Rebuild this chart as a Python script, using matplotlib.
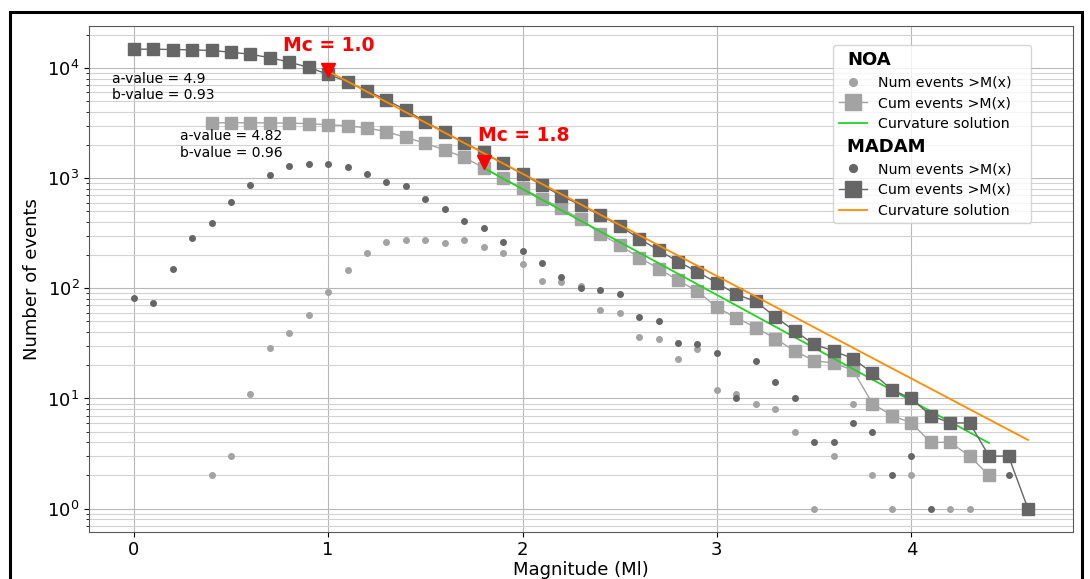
import matplotlib
matplotlib.use('Agg')
import matplotlib.pyplot as plt
from matplotlib.lines import Line2D
from matplotlib.patches import Rectangle
import numpy as np

# magnitude bins
madam_mag = [0.0, 0.1, 0.2, 0.3, 0.4, 0.5, 0.6, 0.7, 0.8, 0.9,
             1.0, 1.1, 1.2, 1.3, 1.4, 1.5, 1.6, 1.7, 1.8, 1.9,
             2.0, 2.1, 2.2, 2.3, 2.4, 2.5, 2.6, 2.7, 2.8, 2.9,
             3.0, 3.1, 3.2, 3.3, 3.4, 3.5, 3.6, 3.7, 3.8, 3.9,
             4.0, 4.1, 4.2, 4.3, 4.4, 4.5, 4.6]
madam_cum = [14800, 14800, 14700, 14600, 14400, 13900, 13300, 12400, 11300, 10100,
             8750, 7470, 6220, 5120, 4150, 3250, 2600, 2095, 1710, 1360,
             1090, 863, 690, 568, 461, 368, 283, 221, 175, 141,
             112, 88, 76, 55, 41, 31, 27, 23, 17, 12,
             10, 7, 6, 6, 3, 3, 1]
madam_num = [81, 73, 149, 285, 390, 609, 870, 1072, 1277, 1350,
             1330, 1259, 1100, 920, 840, 649, 523, 412, 351, 264,
             217, 170, 127, 101, 97, 88, 55, 50, 32, 31,
             26, 10, 22, 14, 10, 4, 4, 6, 5, 2,
             3, 1, np.nan, np.nan, np.nan, 2, 1]

noa_mag = [0.4, 0.5, 0.6, 0.7, 0.8, 0.9,
           1.0, 1.1, 1.2, 1.3, 1.4, 1.5, 1.6, 1.7, 1.8, 1.9,
           2.0, 2.1, 2.2, 2.3, 2.4, 2.5, 2.6, 2.7, 2.8, 2.9,
           3.0, 3.1, 3.2, 3.3, 3.4, 3.5, 3.6, 3.7, 3.8, 3.9,
           4.0, 4.1, 4.2, 4.3, 4.4]
noa_cum = [3180, 3180, 3180, 3170, 3160, 3120,
           3050, 2990, 2850, 2640, 2340, 2070, 1800, 1540, 1240, 994,
           806, 653, 530, 424, 314, 246, 190, 151, 118, 94,
           67, 54, 44, 35, 27, 22, 21, 18, 9, 7,
           6, 4, 4, 3, 2]
noa_num = [2, 3, 11, 29, 39, 57,
           93, 146, 207, 264, 273, 273, 260, 273, 238, 209,
           165, 117, 114, 105, 64, 60, 36, 35, 23, 28,
           12, 11, 9, 8, 5, 1, 3, 9, 2, 1,
           2, np.nan, 1, 1, 2]

# Gutenberg-Richter fits (end points of the lines)
madam_fit_x = [1.0, 4.6]
madam_fit_y = [9330, 4.2]
noa_fit_x = [1.8, 4.4]
noa_fit_y = [1236, 3.94]

mc_values = [1.0, 1.8]
mc_marker_y = [9600, 1400]
mc_labels = ['Mc = 1.0', 'Mc = 1.8']
mc_label_x = [0.77, 1.77]
mc_label_y = [15850, 2425]

dark = '#666666'
light = '#a3a3a3'

fig = plt.figure(figsize=(10.9, 5.79), dpi=100)
ax = fig.add_axes([0.0817, 0.082, 0.9024, 0.873])

p1, = ax.plot(noa_mag, noa_num, 'o', color=light, ms=4, label='Num events >M(x)')
p2, = ax.plot(noa_mag, noa_cum, 's-', color=light, ms=8.5, lw=1, label='Cum events >M(x)')
p3, = ax.plot(noa_fit_x, noa_fit_y, color='#22d322', lw=1.3, label='Curvature solution')
p4, = ax.plot(madam_mag, madam_num, 'o', color=dark, ms=4, label='Num events >M(x)')
p5, = ax.plot(madam_mag, madam_cum, 's-', color=dark, ms=8, lw=1, label='Cum events >M(x)')
p6, = ax.plot(madam_fit_x, madam_fit_y, color='darkorange', lw=1.3, label='Curvature solution')

ax.plot(mc_values, mc_marker_y, 'v', color='red', ms=10.5, zorder=5)
for xl, yl, txt in zip(mc_label_x, mc_label_y, mc_labels):
    ax.text(xl, yl, txt, color='red', fontsize=13.5, fontweight='bold', va='center')

ax.text(-0.113, 6700, 'a-value = 4.9\nb-value = 0.93', fontsize=10, va='center')
ax.text(0.24, 2018, 'a-value = 4.82\nb-value = 0.96', fontsize=10, va='center')

ax.set_yscale('log')
ax.set_xlim(-0.23, 4.83)
ax.set_ylim(0.62, 24000)
ax.set_xticks([0, 1, 2, 3, 4])
ax.grid(True, which='major', color='#b8b8b8', lw=0.8)
ax.grid(True, which='minor', axis='y', color='#d2d2d2', lw=0.8)
ax.set_axisbelow(True)
ax.tick_params(labelsize=13)
for s in ax.spines.values():
    s.set_color('0.35')
ax.set_xlabel('Magnitude (Ml)', fontsize=13, labelpad=1.5)
ax.set_ylabel('Number of events', fontsize=13)

t1 = Line2D([], [], ls='none')
t2 = Line2D([], [], ls='none')
handles = [t1, p1, p2, p3, t2, p4, p5, p6]
# trailing spaces widen the box like in the original
labels = ['NOA', 'Num events >M(x)', 'Cum events >M(x)', 'Curvature solution',
          'MADAM' + ' ' * 11, 'Num events >M(x)', 'Cum events >M(x)', 'Curvature solution']
leg = ax.legend(handles, labels, loc='upper right', bbox_to_anchor=(0.958, 0.962),
                borderaxespad=0, fontsize=10.2, markerscale=1.4, labelspacing=0.47)
for i in (0, 4):
    t = leg.get_texts()[i]
    t.set_fontsize(13)
    t.set_fontweight('bold')
    t.set_x(-31)

fig.add_artist(Rectangle((0.0096, -0.1), 0.9831, 1.08, transform=fig.transFigure,
                         fill=False, lw=2.2, ec='black'))

fig.savefig('out.png', dpi=100)
